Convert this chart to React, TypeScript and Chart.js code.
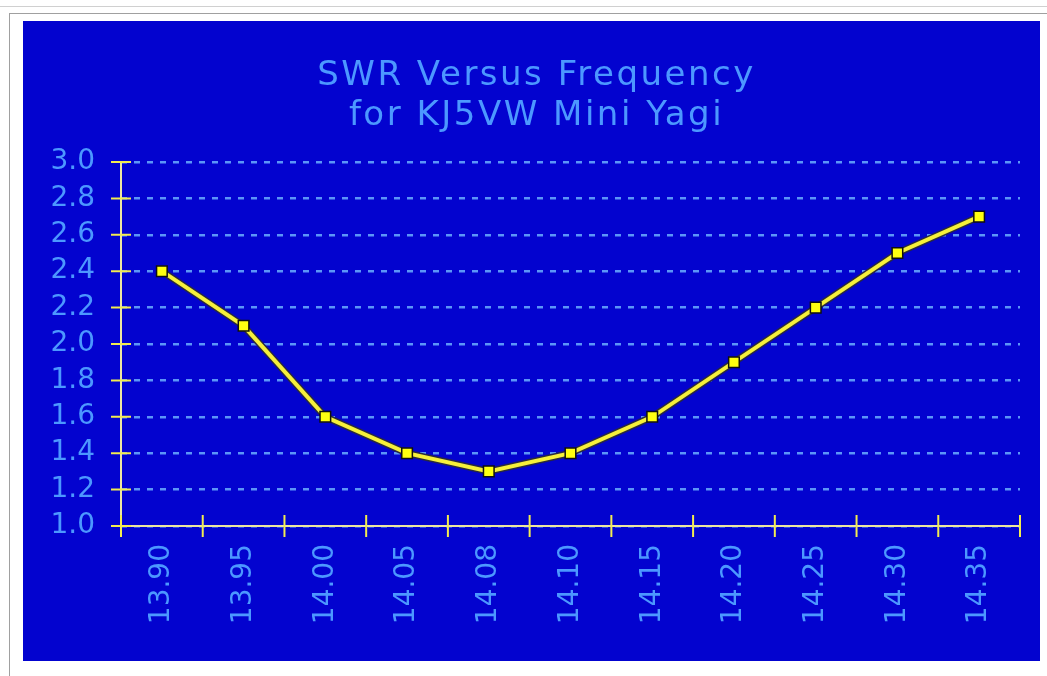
import React, { useEffect, useRef } from "react";
import { Chart, registerables } from "chart.js";

Chart.register(...registerables);

const categories = ["13.90", "13.95", "14.00", "14.05", "14.08", "14.10", "14.15", "14.20", "14.25", "14.30", "14.35"];
const swrValues = [2.4, 2.1, 1.6, 1.4, 1.3, 1.4, 1.6, 1.9, 2.2, 2.5, 2.7];
const yMin = 1.0;
const yMax = 3.0;
const yStep = 0.2;
const titleLines = ["SWR Versus Frequency", "for KJ5VW Mini Yagi"];

const BLUE = "#0303cf";
const LABEL = "#4c98ff";
const GRID = "#5c96f8";
const AXIS = "#ece6a0";
const TICK = "#f2ec50";
const FONT = "'DejaVu Sans', sans-serif";

const decorPlugin = {
  id: "decor",
  beforeDatasetsDraw(chart: any) {
    const { ctx, scales } = chart;
    const x = scales.x;
    const y = scales.y;
    const left = chart.chartArea.left;
    const right = chart.chartArea.right;
    const bottom = y.getPixelForValue(yMin);
    const top = y.getPixelForValue(yMax);
    ctx.save();
    ctx.strokeStyle = AXIS;
    ctx.lineWidth = 2;
    ctx.beginPath();
    ctx.moveTo(left, top);
    ctx.lineTo(left, bottom);
    ctx.moveTo(left, bottom);
    ctx.lineTo(right, bottom);
    ctx.stroke();
    ctx.strokeStyle = TICK;
    ctx.beginPath();
    y.ticks.forEach((t: any) => {
      const py = y.getPixelForValue(t.value);
      ctx.moveTo(left - 10, py);
      ctx.lineTo(left + 10, py);
    });
    for (let i = 0; i <= categories.length; i++) {
      const px = x.getPixelForValue(i - 0.5);
      ctx.moveTo(px, bottom - 11);
      ctx.lineTo(px, bottom + 11);
    }
    ctx.stroke();
    ctx.restore();
  },
  afterDraw(chart: any) {
    const { ctx } = chart;
    ctx.save();
    ctx.fillStyle = LABEL;
    ctx.font = `34px ${FONT}`;
    ctx.textAlign = "center";
    ctx.textBaseline = "middle";
    try {
      (ctx as any).letterSpacing = "2.5px";
    } catch (e) {}
    const cx = chart.width / 2 + 5;
    titleLines.forEach((line, i) => {
      ctx.fillText(line, cx, 55 + i * 40);
    });
    ctx.restore();
  },
};

export default function App() {
  const ref = useRef<HTMLCanvasElement | null>(null);
  useEffect(() => {
    document.body.style.margin = "0";
    const canvas = ref.current;
    if (!canvas) return;
    const chart = new Chart(canvas, {
      type: "line",
      data: {
        labels: categories,
        datasets: [
          {
            label: "SWR",
            data: swrValues,
            borderColor: "#f6f03a",
            borderWidth: 4,
            pointStyle: "rect",
            pointRadius: 7.5,
            pointBackgroundColor: "#ffff10",
            pointBorderColor: "#101010",
            pointBorderWidth: 1.5,
            tension: 0,
            order: 0,
          },
          {
            label: "shadow",
            data: swrValues,
            borderColor: "#2a2a40",
            borderWidth: 7,
            pointRadius: 0,
            tension: 0,
            order: 1,
          },
        ],
      },
      options: {
        animation: false,
        responsive: false,
        layout: { padding: { left: 0, right: 20, top: 141, bottom: 0 } },
        plugins: {
          legend: { display: false },
          title: { display: false },
          tooltip: { enabled: false },
        },
        scales: {
          x: {
            offset: true,
            grid: { display: false, drawTicks: false, offset: true },
            border: { display: false },
            ticks: {
              color: LABEL,
              font: { family: FONT, size: 28 },
              minRotation: 90,
              maxRotation: 90,
              padding: 18,
              autoSkip: false,
            },
            afterFit(scale: any) {
              scale.height = 135;
            },
          },
          y: {
            min: yMin,
            max: yMax,
            grid: { color: GRID, lineWidth: 2.5, drawTicks: false },
            border: { display: false, dash: [6, 7] },
            ticks: {
              stepSize: yStep,
              autoSkip: false,
              color: LABEL,
              font: { family: FONT, size: 28 },
              padding: 26,
              callback: (v: any) => Number(v).toFixed(1),
            },
            afterFit(scale: any) {
              scale.width = 98;
            },
          },
        },
      },
      plugins: [decorPlugin],
    });
    return () => chart.destroy();
  }, []);

  return (
    <div style={{ position: "relative", width: 1047, height: 676, background: "#fff", overflow: "hidden" }}>
      <div style={{ position: "absolute", left: 0, top: 6, width: 1047, height: 1, background: "#d0d0d0" }} />
      <div
        style={{
          position: "absolute",
          left: 9,
          top: 13,
          width: 1040,
          height: 670,
          borderLeft: "1px solid #a0a0a0",
          borderTop: "1px solid #a0a0a0",
        }}
      />
      <div style={{ position: "absolute", left: 23, top: 21, width: 1017, height: 640, background: BLUE }}>
        <canvas ref={ref} width={1017} height={640} style={{ display: "block" }} />
      </div>
    </div>
  );
}
